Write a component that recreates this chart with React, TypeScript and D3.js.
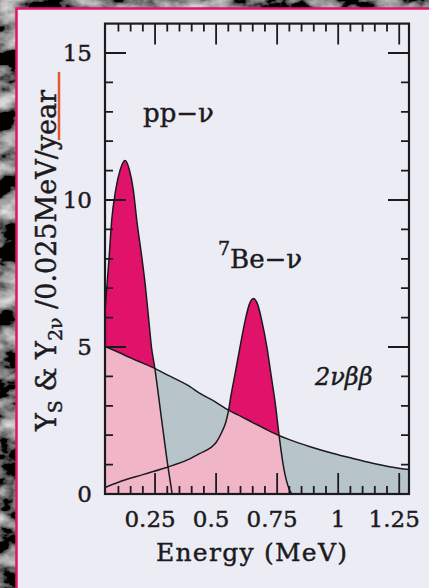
import React from 'react';
import * as d3 from 'd3';

const W = 429;
const H = 588;

// pp-neutrino signal peak (MeV, yield)
const ppEnergy = [0.045, 0.061, 0.0725, 0.089, 0.107, 0.127, 0.145, 0.161, 0.175, 0.195, 0.209, 0.223, 0.236, 0.247, 0.275, 0.303, 0.32];
const ppYield = [6.2, 7.96, 9.32, 10.35, 11.02, 11.34, 11.02, 10.34, 9.32, 8.1, 7.17, 6.03, 4.95, 4.39, 2.65, 0.92, 0];

// 7Be-neutrino signal (MeV, yield)
const beEnergy = [0.045, 0.1, 0.2, 0.303, 0.38, 0.434, 0.475, 0.5, 0.523, 0.54, 0.55, 0.56, 0.578, 0.598, 0.619, 0.636, 0.653, 0.67, 0.687, 0.708, 0.726, 0.742, 0.757, 0.776, 0.8, 0.81];
const beYield = [0.22, 0.4, 0.66, 0.92, 1.15, 1.38, 1.56, 1.75, 2.1, 2.45, 2.8, 3.3, 4.1, 5.0, 5.9, 6.45, 6.65, 6.45, 5.9, 5.0, 4.0, 3.1, 2.06, 0.93, 0.15, 0];

// 2νββ background (MeV, yield)
const bbEnergy = [0.045, 0.1, 0.15, 0.2, 0.242, 0.3, 0.393, 0.434, 0.5, 0.549, 0.6, 0.65, 0.7, 0.755, 0.8, 0.885, 0.98, 1.05, 1.145, 1.254, 1.29];
const bbYield = [5.02, 4.82, 4.63, 4.45, 4.3, 4.05, 3.65, 3.42, 3.12, 2.86, 2.65, 2.43, 2.22, 2.0, 1.85, 1.61, 1.38, 1.23, 1.04, 0.87, 0.83];

const xMajorTicks = [0.25, 0.5, 0.75, 1, 1.25];
const xTickLabels = ['0.25', '0.5', '0.75', '1', '1.25'];
const yMajorTicks = [0, 5, 10, 15];
const yTickLabels = ['0', '5', '10', '15'];

const MAGENTA = '#e0126a';
const PINK = '#f0b6c7';
const GRAY = '#b7c5cb';
const INK = '#1c1a1e';
const FONT = '"DejaVu Serif", serif';

export default function App() {
  const x = d3.scaleLinear().domain([0.045, 1.29]).range([105, 409]);
  const y = d3.scaleLinear().domain([0, 16]).range([494, 23.6]);
  const [xl, xr] = x.range();
  const [yb, yt] = y.range();

  const pp: [number, number][] = ppEnergy.map((e, i) => [e, ppYield[i]]);
  const be: [number, number][] = beEnergy.map((e, i) => [e, beYield[i]]);
  const bb: [number, number][] = bbEnergy.map((e, i) => [e, bbYield[i]]);

  const area = d3
    .area<[number, number]>()
    .x((d) => x(d[0]))
    .y0(y(0))
    .y1((d) => y(d[1]))
    .curve(d3.curveMonotoneX);
  const curve = d3
    .line<[number, number]>()
    .x((d) => x(d[0]))
    .y((d) => y(d[1]))
    .curve(d3.curveMonotoneX);

  const xMinor = d3.range(0.1, 1.27, 0.05).filter((v) => !xMajorTicks.some((m) => Math.abs(m - v) < 1e-6));
  const yMinor = d3.range(1, 16, 1).filter((v) => v % 5 !== 0);
  const MAJ = 21;
  const MIN = 8;

  const tp = d3.path();
  xMajorTicks.forEach((v) => {
    tp.moveTo(x(v), yb); tp.lineTo(x(v), yb - MAJ);
    tp.moveTo(x(v), yt); tp.lineTo(x(v), yt + MAJ);
  });
  xMinor.forEach((v) => {
    tp.moveTo(x(v), yb); tp.lineTo(x(v), yb - MIN);
    tp.moveTo(x(v), yt); tp.lineTo(x(v), yt + MIN);
  });
  yMajorTicks.forEach((v) => {
    tp.moveTo(xl, y(v)); tp.lineTo(xl + MAJ, y(v));
    tp.moveTo(xr, y(v)); tp.lineTo(xr - MAJ, y(v));
  });
  yMinor.forEach((v) => {
    tp.moveTo(xl, y(v)); tp.lineTo(xl + MIN, y(v));
    tp.moveTo(xr, y(v)); tp.lineTo(xr - MIN, y(v));
  });

  const textStroke = { stroke: INK, strokeWidth: 0.45 };
  const layer: React.CSSProperties = { position: 'absolute', left: 0, top: 0, display: 'block' };

  return (
    <div style={{ position: 'absolute', left: 0, top: 0, width: W, height: H }}>
      <svg width={W} height={H} style={{ ...layer, zIndex: 0 }}>
        <defs>
          <filter id="granite" x="0" y="0" width="100%" height="100%">
            <feTurbulence type="fractalNoise" baseFrequency="0.03 0.045" numOctaves={4} seed={11} />
            <feColorMatrix type="matrix" values="1.7 0 0 0 -0.68  1.7 0 0 0 -0.68  1.7 0 0 0 -0.68  0 0 0 0 1" />
          </filter>
          <clipPath id="plotClip">
            <rect x={xl} y={yt} width={xr - xl} height={yb - yt} />
          </clipPath>
          <clipPath id="underBB">
            <path d={area(bb) || ''} />
          </clipPath>
        </defs>

        <rect x={0} y={0} width={W} height={H} fill="#333" filter="url(#granite)" />
        {/* panel */}
        <rect x={16} y={8} width={W - 16} height={H - 8} fill="#ecedf4" />
        <path d={`M16.5,${H}V8.5H${W}`} fill="none" stroke="#e3136a" strokeWidth={2.5} />

        <g clipPath="url(#plotClip)">
          <path d={area(bb) || ''} fill={GRAY} />
          <path d={area(pp) || ''} fill={MAGENTA} />
          <path d={area(be) || ''} fill={MAGENTA} />
          <g clipPath="url(#underBB)">
            <path d={area(pp) || ''} fill={PINK} />
            <path d={area(be) || ''} fill={PINK} />
          </g>
          <path d={curve(bb) || ''} fill="none" stroke={INK} strokeWidth={1.5} />
          <path d={curve(be) || ''} fill="none" stroke={INK} strokeWidth={1.5} />
          <path d={curve(pp) || ''} fill="none" stroke={INK} strokeWidth={1.5} />
        </g>

        {/* tick labels */}
        <g fontFamily={FONT} fontSize={23} fill={INK} {...textStroke}>
          {xMajorTicks.map((v, i) => (
            <text key={'xl' + v} x={x(v) + (xTickLabels[i].includes('.') ? -5 : 0)} y={527} textAnchor="middle">
              {xTickLabels[i]}
            </text>
          ))}
          {yMajorTicks.map((v, i) => (
            <text key={'yl' + v} x={92} y={y(v) + 8} textAnchor="end">
              {yTickLabels[i]}
            </text>
          ))}
        </g>

        {/* axis titles */}
        <text x={251.5} y={561} textAnchor="middle" fontFamily={FONT} fontSize={25} fill={INK} textLength={191} lengthAdjust="spacing" {...textStroke}>
          Energy (MeV)
        </text>
        <text transform="translate(56,431) rotate(-90)" fontFamily={FONT} fontSize={27} fill={INK} {...textStroke}>
          Y<tspan fontSize={19} dy={6}>S</tspan>
          <tspan dy={-6}> &amp; Y</tspan>
          <tspan fontSize={19} dy={6}>2ν</tspan>
          <tspan dy={-6}> /0.025MeV/year</tspan>
        </text>
        <line x1={59} x2={59} y1={72} y2={140} stroke="#e5572f" strokeWidth={2.5} />

        {/* annotations */}
        <g fontFamily={FONT} fill={INK} {...textStroke}>
          <text x={143} y={122} fontSize={26}>
            pp−ν
          </text>
          <text x={218} y={268}>
            <tspan fontSize={19} dy={-13}>7</tspan>
            <tspan fontSize={26} dy={13}>Be−ν</tspan>
          </text>
          <text x={315} y={385} fontSize={24} fontStyle="italic">
            2νββ
          </text>
        </g>
      </svg>

      {/* frame and tick marks on their own top layer */}
      <svg width={W} height={H} style={{ ...layer, zIndex: 2, pointerEvents: 'none' }}>
        <path d={tp.toString()} fill="none" stroke={INK} strokeWidth={1.8} />
        <rect x={xl} y={yt} width={xr - xl} height={yb - yt} fill="none" stroke={INK} strokeWidth={2.2} />
      </svg>
    </div>
  );
}
